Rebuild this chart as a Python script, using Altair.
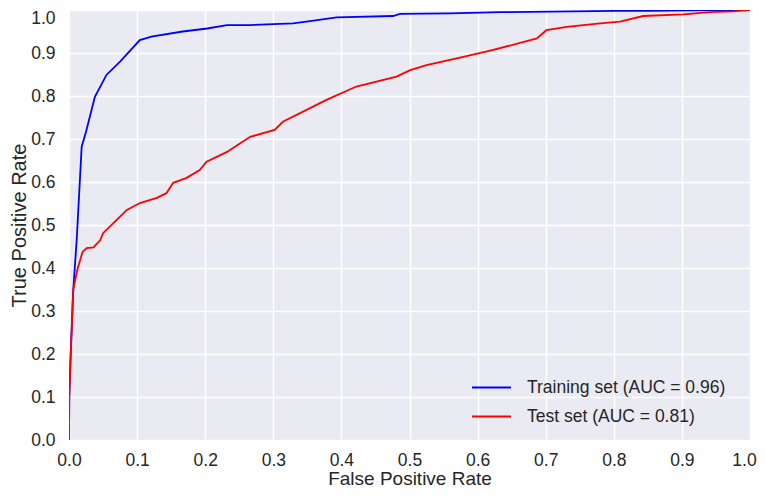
import altair as alt
import pandas as pd

# ROC points
train_fpr = [0.0, 0.0004, 0.0025, 0.005, 0.006, 0.0113, 0.0186, 0.025, 0.038, 0.055,
             0.075, 0.104, 0.121, 0.167, 0.203, 0.232, 0.266, 0.329, 0.354, 0.393,
             0.476, 0.486, 0.559, 0.633, 0.805, 0.853, 0.95, 1.0]
train_tpr = [0.0, 0.1, 0.2, 0.3, 0.343, 0.465, 0.682, 0.717, 0.798, 0.849,
             0.880, 0.930, 0.938, 0.950, 0.957, 0.965, 0.965, 0.969, 0.974, 0.983,
             0.986, 0.991, 0.992, 0.995, 0.998, 0.9983, 1.0, 1.0]

test_fpr = [0.0, 0.0004, 0.0025, 0.005, 0.0063, 0.012, 0.020, 0.026, 0.036, 0.046,
            0.050, 0.070, 0.085, 0.104, 0.129, 0.143, 0.153, 0.172, 0.192, 0.202,
            0.232, 0.266, 0.302, 0.314, 0.378, 0.422, 0.481, 0.501, 0.525, 0.579,
            0.623, 0.687, 0.701, 0.731, 0.780, 0.809, 0.843, 0.902, 0.941, 0.975, 1.0]
test_tpr = [0.0, 0.1, 0.2, 0.3, 0.35, 0.395, 0.438, 0.446, 0.448, 0.465,
            0.481, 0.512, 0.535, 0.551, 0.563, 0.574, 0.598, 0.609, 0.628, 0.647,
            0.670, 0.705, 0.721, 0.740, 0.791, 0.822, 0.845, 0.860, 0.872, 0.891,
            0.907, 0.934, 0.953, 0.961, 0.969, 0.973, 0.986, 0.990, 0.995, 0.997, 1.0]

series_names = ["Training set (AUC = 0.96)", "Test set (AUC = 0.81)"]
series_colors = ["#0000ff", "#ff0000"]
ticks = [round(i * 0.1, 1) for i in range(11)]

rows = []
for i, (f, t) in enumerate(zip(train_fpr, train_tpr)):
    rows.append({"fpr": f, "tpr": t, "series": series_names[0], "order": i})
for i, (f, t) in enumerate(zip(test_fpr, test_tpr)):
    rows.append({"fpr": f, "tpr": t, "series": series_names[1], "order": i})
df = pd.DataFrame(rows)

FONT = "Liberation Sans"
TXT = "#262626"

chart = alt.Chart(df).mark_line(strokeWidth=1.8, clip=True).encode(
    x=alt.X("fpr:Q", title="False Positive Rate",
            scale=alt.Scale(domain=[0, 1], nice=False, zero=False),
            axis=alt.Axis(values=ticks, format=".1f", labelPadding=11, titlePadding=1,
                          titleFontSize=19, labelFlush=False,
                          labelOffset={"condition": {"test": "datum.value >= 0.99", "value": -6},
                                       "value": 0})),
    y=alt.Y("tpr:Q", title="True Positive Rate",
            scale=alt.Scale(domain=[0, 1], nice=False, zero=False),
            axis=alt.Axis(values=ticks, format=".1f", labelPadding=14, titlePadding=1,
                          labelFlush=False,
                          labelOffset={"condition": {"test": "datum.value >= 0.99", "value": 8},
                                       "value": 0})),
    color=alt.Color("series:N", sort=series_names,
                    scale=alt.Scale(domain=series_names, range=series_colors),
                    legend=alt.Legend(title=None, orient="none", legendX=402, legendY=357,
                                      symbolType="stroke", symbolSize=1521,
                                      symbolStrokeWidth=1.8, labelOffset=15,
                                      labelFontSize=17.5, labelFont=FONT, labelColor=TXT,
                                      labelLimit=0, rowPadding=-14, padding=0)),
    order="order:Q",
).properties(
    width=681, height=430,
    background="#ffffff",
    autosize=alt.AutoSizeParams(type="none"),
    padding={"left": 61, "top": 2, "right": 7, "bottom": 49},
).configure_view(
    fill="#EAEAF2", stroke=None
).configure_axis(
    grid=True, gridColor="#ffffff", gridWidth=1.5, domain=False, ticks=False,
    labelFont=FONT, labelFontSize=17.5, labelColor=TXT,
    titleFont=FONT, titleFontSize=20, titleColor=TXT, titleFontWeight="normal",
)

chart.save("out.html", embed_options={"renderer": "svg", "actions": False})
